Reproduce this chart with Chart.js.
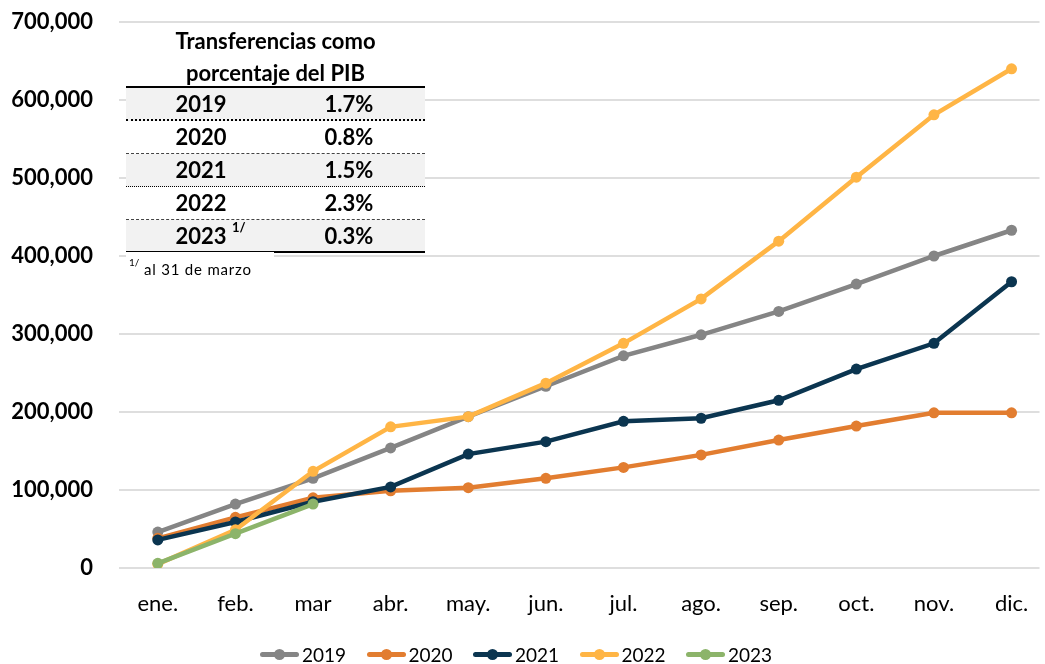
<!DOCTYPE html>
<html lang="es">
<head>
<meta charset="utf-8">
<script src="https://cdn.jsdelivr.net/npm/chart.js@4.4.1/dist/chart.umd.min.js"></script>
<style>
  body { margin: 0; background: #fff; font-family: Lato, 'Noto Sans', sans-serif; }
  #wrap { position: relative; width: 1045px; height: 664px; }
  #grafica { position: absolute; left: 0; top: 0; }
  #tabla { position: absolute; left: 126px; top: 22px; width: 299px; font-weight: bold; font-size: 22px; color: #000; }
  #tabla .titulo { text-align: center; line-height: 32px; padding-top: 3px; height: 61px; border-bottom: 2px solid #000; }
  #tabla .fila { position: relative; height: 32px; line-height: 32px; background: #fff; }
  #tabla .fila.gris { background: #f2f2f2; }
  #tabla .fila span { position: absolute; top: 0; width: 150px; text-align: center; }
  #tabla .fila .c1 { left: 0; }
  #tabla .fila .c2 { left: 148px; }
  #tabla .fila sup { position: absolute; left: 106px; top: -9px; font-size: 13px; }
  #nota { position: absolute; left: 126px; top: 252px; width: 148px; height: 26px; background: #fff; font-size: 15px; letter-spacing: 0.8px; line-height: 26px; padding-left: 3px; box-sizing: border-box; }
  #nota sup { font-size: 10px; letter-spacing: 0; position: relative; top: -3px; }
  #leyenda { position: absolute; left: 260px; top: 641px; height: 26px; display: flex; font-size: 19px; }
  #leyenda .item { width: 106.5px; display: flex; align-items: center; }
  #leyenda .simb { position: relative; width: 39px; height: 5px; border-radius: 3px; margin-right: 3px; }
  #leyenda .simb i { position: absolute; left: 14px; top: -3px; width: 11px; height: 11px; border-radius: 50%; }
</style>
</head>
<body>
<div id="wrap">
  <canvas id="grafica" width="1045" height="664"></canvas>
  <div id="tabla"></div>
  <div id="nota"><sup>1/</sup> al 31 de marzo</div>
  <div id="leyenda"></div>
</div>
<script>
// Transferencias acumuladas por mes
const meses = ['ene.', 'feb.', 'mar', 'abr.', 'may.', 'jun.', 'jul.', 'ago.', 'sep.', 'oct.', 'nov.', 'dic.']
const anios = ['2019', '2020', '2021', '2022', '2023']

const serie2019 = [46000, 82000, 115000, 154000, 194000, 233000, 272000, 299000, 329000, 364000, 400000, 433000]
const serie2020 = [38000, 65000, 90000, 99000, 103000, 115000, 129000, 145000, 164000, 182000, 199000, 199000]
const serie2021 = [36000, 59000, 85000, 104000, 146000, 162000, 188000, 192000, 215000, 255000, 288000, 367000]
const serie2022 = [5000, 49000, 124000, 181000, 194000, 237000, 288000, 345000, 419000, 501000, 581000, 640000]
const serie2023 = [6000, 44000, 82000]

const colores = ['#858585', '#E27D30', '#0B3550', '#FFB545', '#8CB46A']

// Tabla de porcentaje del PIB
const tablaAnios = ['2019', '2020', '2021', '2022', '2023']
const tablaPct = ['1.7%', '0.8%', '1.5%', '2.3%', '0.3%']

const yMax = 700000
const yPaso = 100000

// Build the table overlay
const tabla = document.querySelector('#tabla')
const bordes = ['2px dotted #000', '1px dashed #444', '1px dotted #000', '1px dashed #444', '2px solid #000']
let html = '<div class="titulo">Transferencias como<br>porcentaje del PIB</div>'
tablaAnios.forEach((a, i) => {
  const sup = i === tablaAnios.length - 1 ? '<sup>1/</sup>' : ''
  const alto = bordes[i].startsWith('2px') ? 31 : 32
  html += `<div class="fila${i % 2 === 0 ? ' gris' : ''}" style="height:${alto}px;border-bottom:${bordes[i]}">` +
    `<span class="c1">${a}</span>${sup}<span class="c2">${tablaPct[i]}</span></div>`
})
tabla.innerHTML = html

// Legend
const leyenda = document.querySelector('#leyenda')
anios.forEach((a, i) => {
  const item = document.createElement('div')
  item.classList.add('item')
  item.innerHTML = `<span class="simb" style="background:${colores[i]}"><i style="background:${colores[i]}"></i></span>${a}`
  leyenda.appendChild(item)
})

const series = [serie2019, serie2020, serie2021, serie2022, serie2023]

const datasets = series.map((s, i) => ({
  label: anios[i],
  data: s.map((v, n) => ({ x: n, y: v })),
  borderColor: colores[i],
  backgroundColor: colores[i],
  borderWidth: 4.5,
  pointRadius: 5.5,
  pointHoverRadius: 5.5,
  pointBorderWidth: 0,
  tension: 0,
  order: series.length - i, // later years drawn on top
}))

// no extra padding from the tick labels, the chart area is set by hand
function sinPadding(scale) {
  scale.paddingTop = 0
  scale.paddingBottom = 0
  scale.paddingLeft = 0
  scale.paddingRight = 0
}

const ctx = document.getElementById('grafica').getContext('2d')
new Chart(ctx, {
  type: 'line',
  data: { datasets: datasets },
  options: {
    responsive: false,
    animation: false,
    layout: { padding: { top: 22, right: 0, left: 0, bottom: 0 } },
    plugins: { legend: { display: false }, tooltip: { enabled: false } },
    scales: {
      x: {
        type: 'linear',
        min: -0.5,
        max: 11.36,
        grid: { display: false },
        border: { display: false },
        afterFit: (scale) => {
          scale.height = 96
          sinPadding(scale)
        },
        ticks: {
          stepSize: 1,
          includeBounds: false,
          autoSkip: false,
          maxRotation: 0,
          padding: 15,
          color: '#000',
          font: { family: 'Lato', size: 22 },
          callback: (v) => meses[v],
        },
      },
      y: {
        min: 0,
        max: yMax,
        grid: { color: '#dedede', lineWidth: 2, drawTicks: false },
        border: { display: false },
        afterFit: (scale) => {
          scale.width = 119
          sinPadding(scale)
        },
        ticks: {
          stepSize: yPaso,
          padding: 26,
          color: '#000',
          font: { family: 'Lato', size: 22, weight: 'bold' },
          callback: (v) => v.toLocaleString('en-US'),
        },
      },
    },
  },
})
</script>
</body>
</html>
